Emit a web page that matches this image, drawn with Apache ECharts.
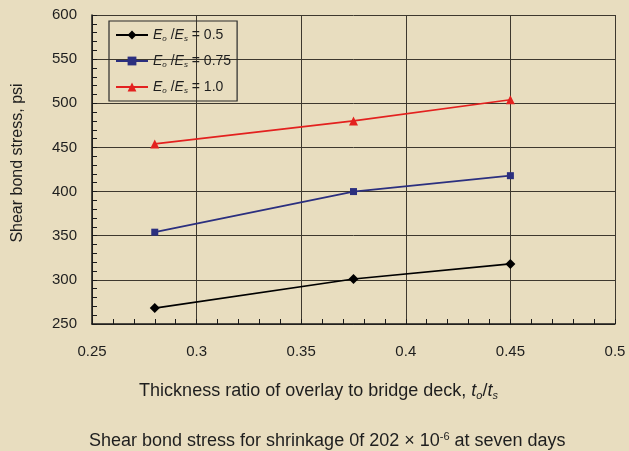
<!DOCTYPE html>
<html>
<head>
<meta charset="utf-8">
<script src="https://cdn.jsdelivr.net/npm/echarts@6/dist/echarts.min.js"></script>
<style>
  html, body { margin: 0; padding: 0; background: #e8ddbf; }
  #chart { width: 629px; height: 451px; }
</style>
</head>
<body>
<div id="chart"></div>
<script>
// Thickness ratio t_o/t_s at which shear bond stress was computed
const thicknessRatio = [0.28, 0.375, 0.45];
// Shear bond stress (psi) for each modulus ratio E_o/E_s
const stressRatio05 = [268, 301, 318];
const stressRatio075 = [354, 400, 418];
const stressRatio10 = [454, 480, 504];
const modulusRatios = ['0.5', '0.75', '1.0'];

const FONT = '"Liberation Sans", Arial, Helvetica, sans-serif';
const TEXT = '#1e1e1e';
const GRID = '#3d382e';

function pairs(xs, ys) { return xs.map((x, i) => [x, ys[i]]); }

const chart = echarts.init(document.getElementById('chart'), null, { renderer: 'canvas' });

const legendRich = {
  i: { fontFamily: FONT, fontStyle: 'italic', fontSize: 14, color: TEXT, lineHeight: 16 },
  sub: { fontFamily: FONT, fontStyle: 'italic', fontSize: 8, color: TEXT, padding: [8, 0, 0, 0], lineHeight: 16 },
  n: { fontFamily: FONT, fontSize: 14, color: TEXT, lineHeight: 16 }
};

chart.setOption({
  backgroundColor: '#e8ddbf',
  animation: false,
  textStyle: { fontFamily: FONT },
  title: {
    text: '{t|Shear bond stress for shrinkage 0f 202 × 10}{sup|-6}{t| at seven days}',
    left: 89,
    top: 431,
    padding: 0,
    textStyle: {
      fontWeight: 'normal',
      rich: {
        t: { fontFamily: FONT, fontSize: 18, fontWeight: 'normal', color: TEXT },
        sup: { fontFamily: FONT, fontSize: 11, fontWeight: 'normal', color: TEXT, padding: [0, 0, 9, 0] }
      }
    }
  },
  grid: { left: 92, top: 15, right: 14, bottom: 127, show: false },
  legend: {
    orient: 'vertical',
    left: 109,
    top: 21,
    padding: [6, 6, 6, 6],
    itemGap: 10,
    itemWidth: 32,
    itemHeight: 11,
    backgroundColor: 'transparent',
    borderColor: '#2a2a2a',
    borderWidth: 1.2,
    borderRadius: 0,
    data: ['r05', 'r075', 'r10'],
    formatter: function (name) {
      const v = { r05: modulusRatios[0], r075: modulusRatios[1], r10: modulusRatios[2] }[name];
      return '{i|E}{sub|o}{n| /}{i|E}{sub|s}{n| = ' + v + '}';
    },
    textStyle: { rich: legendRich }
  },
  xAxis: {
    type: 'value',
    min: 0.25,
    max: 0.5,
    interval: 0.05,
    name: '{n|Thickness ratio of overlay to bridge deck, }{i|t}{sub|o}{n|/}{i|t}{sub|s}',
    nameLocation: 'middle',
    nameGap: 57,
    nameTextStyle: {
      padding: [0, 70, 0, 0],
      rich: {
        n: { fontFamily: FONT, fontSize: 18, color: TEXT },
        i: { fontFamily: FONT, fontSize: 18, fontStyle: 'italic', color: TEXT },
        sub: { fontFamily: FONT, fontSize: 11, fontStyle: 'italic', color: TEXT, padding: [9, 0, 0, 0] }
      }
    },
    axisLine: { show: true, lineStyle: { color: '#1a1a1a', width: 1.5 } },
    axisTick: { show: true, inside: true, length: 5, lineStyle: { color: '#1a1a1a', width: 1 } },
    minorTick: { show: true, splitNumber: 5, length: 5, lineStyle: { color: '#1a1a1a', width: 1 } },
    axisLabel: {
      margin: 20,
      fontSize: 15,
      color: TEXT,
      formatter: function (v) { return String(+v.toFixed(2)); }
    },
    splitLine: { show: true, lineStyle: { color: GRID, width: 1 } }
  },
  yAxis: {
    type: 'value',
    min: 250,
    max: 600,
    interval: 50,
    name: 'Shear bond stress, psi',
    nameLocation: 'middle',
    nameGap: 66,
    nameTextStyle: { fontFamily: FONT, fontSize: 16, color: TEXT, padding: [0, 0, 0, 13] },
    axisLine: { show: true, lineStyle: { color: '#1a1a1a', width: 1.5 } },
    axisTick: { show: true, inside: true, length: 5, lineStyle: { color: '#1a1a1a', width: 1 } },
    minorTick: { show: true, splitNumber: 5, length: 5, lineStyle: { color: '#1a1a1a', width: 1 } },
    axisLabel: { margin: 15, fontSize: 15, color: TEXT },
    splitLine: { show: true, lineStyle: { color: GRID, width: 1 } }
  },
  series: [
    {
      name: 'r05',
      type: 'line',
      data: pairs(thicknessRatio, stressRatio05),
      symbol: 'diamond',
      symbolSize: 10,
      itemStyle: { color: '#000000' },
      lineStyle: { color: '#000000', width: 1.7 }
    },
    {
      name: 'r075',
      type: 'line',
      data: pairs(thicknessRatio, stressRatio075),
      symbol: 'rect',
      symbolSize: 7,
      itemStyle: { color: '#2b2f7f' },
      lineStyle: { color: '#2b2f7f', width: 1.7 }
    },
    {
      name: 'r10',
      type: 'line',
      data: pairs(thicknessRatio, stressRatio10),
      symbol: 'triangle',
      symbolSize: 9,
      itemStyle: { color: '#e3211f' },
      lineStyle: { color: '#e3211f', width: 1.7 }
    }
  ]
});
</script>
</body>
</html>
